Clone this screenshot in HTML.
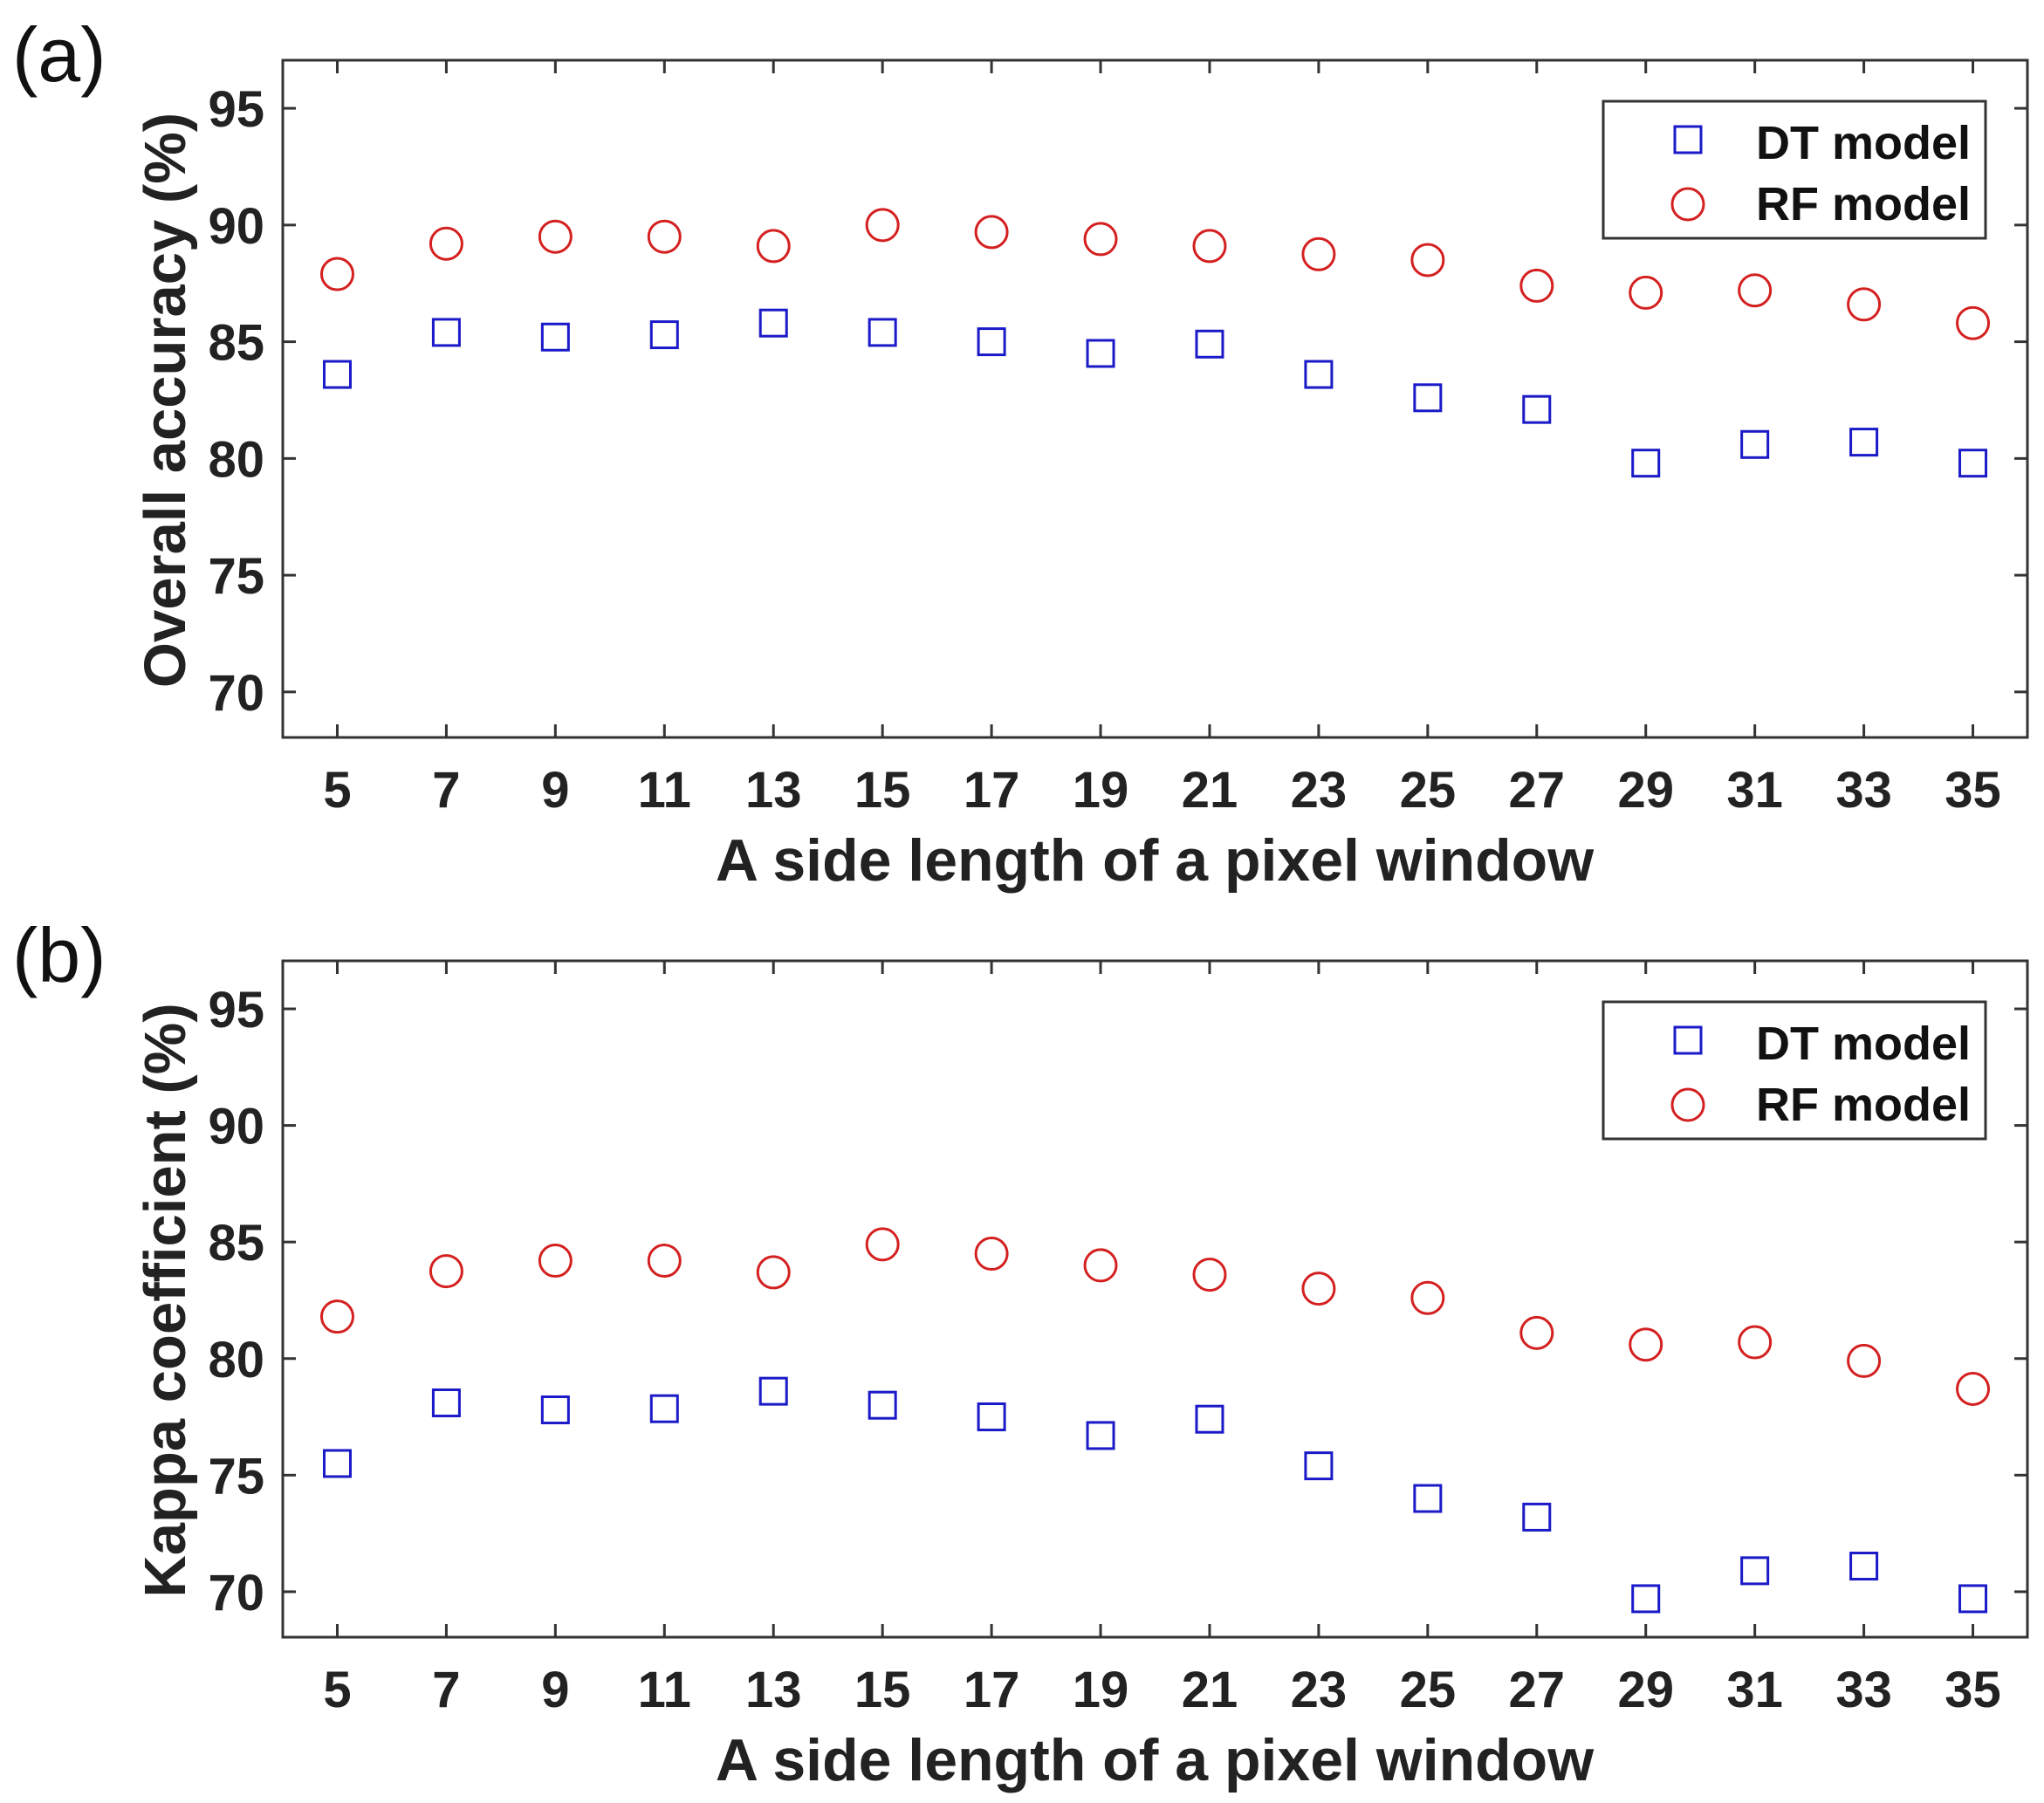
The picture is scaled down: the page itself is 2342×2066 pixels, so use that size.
<!DOCTYPE html>
<html><head><meta charset="utf-8"><style>
html,body{margin:0;padding:0;background:#fff;}
svg{display:block;font-family:"Liberation Sans",Arial,sans-serif;}
</style></head><body>
<svg id="fig" width="2342" height="2066" viewBox="0 0 2342 2066" xmlns="http://www.w3.org/2000/svg"></svg>
<script>
const categories = [5,7,9,11,13,15,17,19,21,23,25,27,29,31,33,35];
const yTicks = [70,75,80,85,90,95];
const accDT = [83.6,85.4,85.2,85.3,85.8,85.4,85.0,84.5,84.9,83.6,82.6,82.1,79.8,80.6,80.7,79.8];
const accRF = [87.9,89.2,89.5,89.5,89.1,90.0,89.7,89.4,89.1,88.75,88.5,87.4,87.1,87.2,86.6,85.8];
const kapDT = [75.5,78.1,77.8,77.85,78.6,78.0,77.5,76.7,77.4,75.4,74.0,73.2,69.7,70.9,71.1,69.7];
const kapRF = [81.8,83.75,84.2,84.2,83.7,84.9,84.5,84.0,83.6,83.0,82.6,81.1,80.6,80.7,79.9,78.7];

const NS='http://www.w3.org/2000/svg';
const svg=document.getElementById('fig');
function mk(tag,attrs,parent,text){const e=document.createElementNS(NS,tag);for(const k in attrs)e.setAttribute(k,attrs[k]);if(text!==undefined)e.textContent=text;(parent||svg).appendChild(e);return e;}

function panel(id,top,bottom,letter,ylabel,dt,rf){
  const L=324,R=2323;
  const xmin=4,xmax=36,ymin=68.05,ymax=97.06;
  const xs=v=>L+(v-xmin)/(xmax-xmin)*(R-L);
  const ys=v=>bottom-(v-ymin)/(ymax-ymin)*(bottom-top);
  const g=mk('g',{});
  
  
  const lbl=mk('text',{x:14,y:top+24,'font-size':88,fill:'#111'},g,'('+id+')');
  
  
  const box=mk('rect',{x:L,y:top,width:R-L,height:bottom-top,fill:'none',stroke:'#333','stroke-width':3},g);
  
  
  categories.forEach(c=>{
    const x=xs(c);
    mk('line',{x1:x,y1:bottom,x2:x,y2:bottom-15,stroke:'#333','stroke-width':3},g);
    mk('line',{x1:x,y1:top,x2:x,y2:top+15,stroke:'#333','stroke-width':3},g);
    const t=mk('text',{x:x,y:bottom+80,'font-size':58,'font-weight':'bold','text-anchor':'middle',fill:'#222'},g,String(c));
    
    
  });
  yTicks.forEach(v=>{
    const y=ys(v);
    mk('line',{x1:L,y1:y,x2:L+15,y2:y,stroke:'#333','stroke-width':3},g);
    mk('line',{x1:R,y1:y,x2:R-15,y2:y,stroke:'#333','stroke-width':3},g);
    const t=mk('text',{x:303,y:y+21,'font-size':58,'font-weight':'bold','text-anchor':'end',fill:'#222'},g,String(v));
    
    
  });
  const xt=mk('text',{x:1323,y:bottom+164,'font-size':68,'font-weight':'bold','text-anchor':'middle',fill:'#222'},g,'A side length of a pixel window');
  
  
  const cy=(ys(95)+ys(70))/2;
  const yt=mk('text',{x:0,y:0,'font-size':67,'font-weight':'bold','text-anchor':'middle',fill:'#222',transform:'translate(212,'+cy+') rotate(-90)'},g,ylabel);
  
  
  categories.forEach((c,i)=>{
    const s=mk('rect',{x:xs(c)-15,y:ys(dt[i])-15,width:30,height:30,fill:'none',stroke:'#1a1ac8','stroke-width':3},g);
    
    
    const o=mk('circle',{cx:xs(c),cy:ys(rf[i]),r:18,fill:'none',stroke:'#d42020','stroke-width':3},g);
    
    
  });
  const lt=top+47;
  const lg=mk('g',{},g);
  
  
  mk('rect',{x:1837,y:lt,width:438,height:157,fill:'#fff',stroke:'#333','stroke-width':3},lg);
  mk('rect',{x:1919,y:lt+29,width:30,height:30,fill:'none',stroke:'#1a1ac8','stroke-width':3},lg);
  mk('circle',{cx:1934,cy:lt+118,r:18,fill:'none',stroke:'#d42020','stroke-width':3},lg);
  const e1=mk('text',{x:2258,y:lt+66,'font-size':54,'font-weight':'bold','text-anchor':'end',fill:'#111'},lg,'DT model');
  
  
  const e2=mk('text',{x:2258,y:lt+136,'font-size':54,'font-weight':'bold','text-anchor':'end',fill:'#111'},lg,'RF model');
  
  
}
panel('a',69,845,'a','Overall accuracy (%)',accDT,accRF);
panel('b',1101,1876,'b','Kappa coefficient (%)',kapDT,kapRF);
</script>
</body></html>
